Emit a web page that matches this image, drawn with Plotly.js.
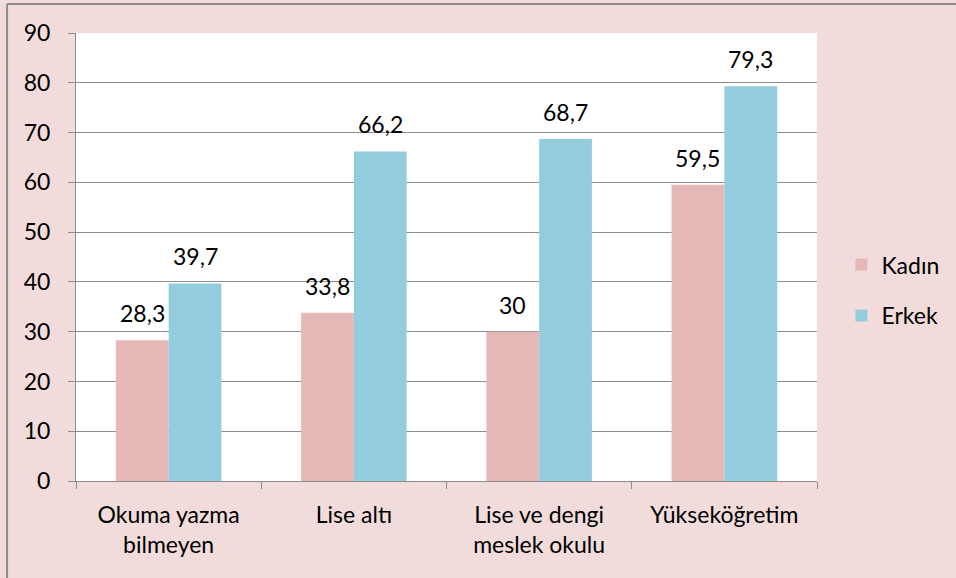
<!DOCTYPE html>
<html>
<head>
<meta charset="utf-8">
<script src="https://cdn.plot.ly/plotly-3.0.1.min.js"></script>
<style>
html,body{margin:0;padding:0;background:#F2DCDB;}
#chart{width:956px;height:578px;}
</style>
</head>
<body>
<div id="chart"></div>
<script>
const categories = ["Okuma yazma<br>bilmeyen", "Lise altı", "Lise ve dengi<br>meslek okulu", "Yükseköğretim"];
const seriesNames = ["Kadın", "Erkek"];
const kadin = [28.3, 33.8, 30, 59.5];
const erkek = [39.7, 66.2, 68.7, 79.3];
const yTicks = [0, 10, 20, 30, 40, 50, 60, 70, 80, 90];

const colors = ["#E6B9B8", "#93CDDD"];
const fontFam = "Lato, 'Open Sans', sans-serif";
const fs = 23;
const fmt = v => String(v).replace('.', ',');

const traces = [kadin, erkek].map((vals, i) => ({
  type: 'bar',
  name: seriesNames[i],
  legendgroup: 'g' + i,
  x: categories,
  y: vals,
  marker: {color: colors[i]},
  hoverinfo: 'none'
}));

const annotations = [];
[kadin, erkek].forEach((vals, i) => {
  vals.forEach((v, j) => {
    annotations.push({
      x: categories[j], y: v, xref: 'x', yref: 'y',
      text: fmt(v), showarrow: false,
      xshift: i === 0 ? -26.5 : 26.5,
      yanchor: 'bottom', yshift: 11,
      font: {family: fontFam, size: fs, color: '#000'}
    });
  });
});

const layout = {
  width: 956, height: 578,
  paper_bgcolor: '#F2DCDB',
  plot_bgcolor: '#FFFFFF',
  margin: {l: 76, r: 139, t: 33, b: 97, pad: 0, autoexpand: false},
  barmode: 'group',
  bargap: 0.43,
  bargroupgap: 0,
  showlegend: true,
  legend: {
    x: 1.033, y: 0.426, xanchor: 'left', yanchor: 'middle',
    bgcolor: 'rgba(0,0,0,0)',
    font: {family: fontFam, size: fs, color: '#000'},
    traceorder: 'grouped',
    tracegroupgap: 18,
    itemwidth: 30
  },
  xaxis: {
    type: 'category',
    tickson: 'boundaries',
    ticks: 'outside', ticklen: 7, tickcolor: '#8C8C8C', tickwidth: 1,
    showline: true, linecolor: '#8C8C8C', linewidth: 1,
    showgrid: false,
    ticklabelstandoff: 13,
    tickfont: {family: fontFam, size: fs, color: '#000'},
    fixedrange: true
  },
  yaxis: {
    range: [0, 90],
    tickvals: yTicks,
    ticktext: yTicks.map(String),
    ticks: 'outside', ticklen: 7, tickcolor: '#8C8C8C', tickwidth: 1,
    showline: true, linecolor: '#8C8C8C', linewidth: 1,
    showgrid: true, gridcolor: '#8C8C8C', gridwidth: 1,
    zeroline: false,
    ticklabelstandoff: 13,
    tickfont: {family: fontFam, size: fs, color: '#000'},
    fixedrange: true
  },
  annotations: annotations,
  shapes: [
    {type: 'line', xref: 'paper', yref: 'paper', x0: -0.093, x1: 1.2, y0: 1.065, y1: 1.065, line: {color: '#8C8C8C', width: 2}},
    {type: 'line', xref: 'paper', yref: 'paper', x0: -0.093, x1: -0.093, y0: -0.25, y1: 1.065, line: {color: '#8C8C8C', width: 2}}
  ]
};

Plotly.newPlot('chart', traces, layout, {displayModeBar: false, staticPlot: true});
</script>
</body>
</html>
